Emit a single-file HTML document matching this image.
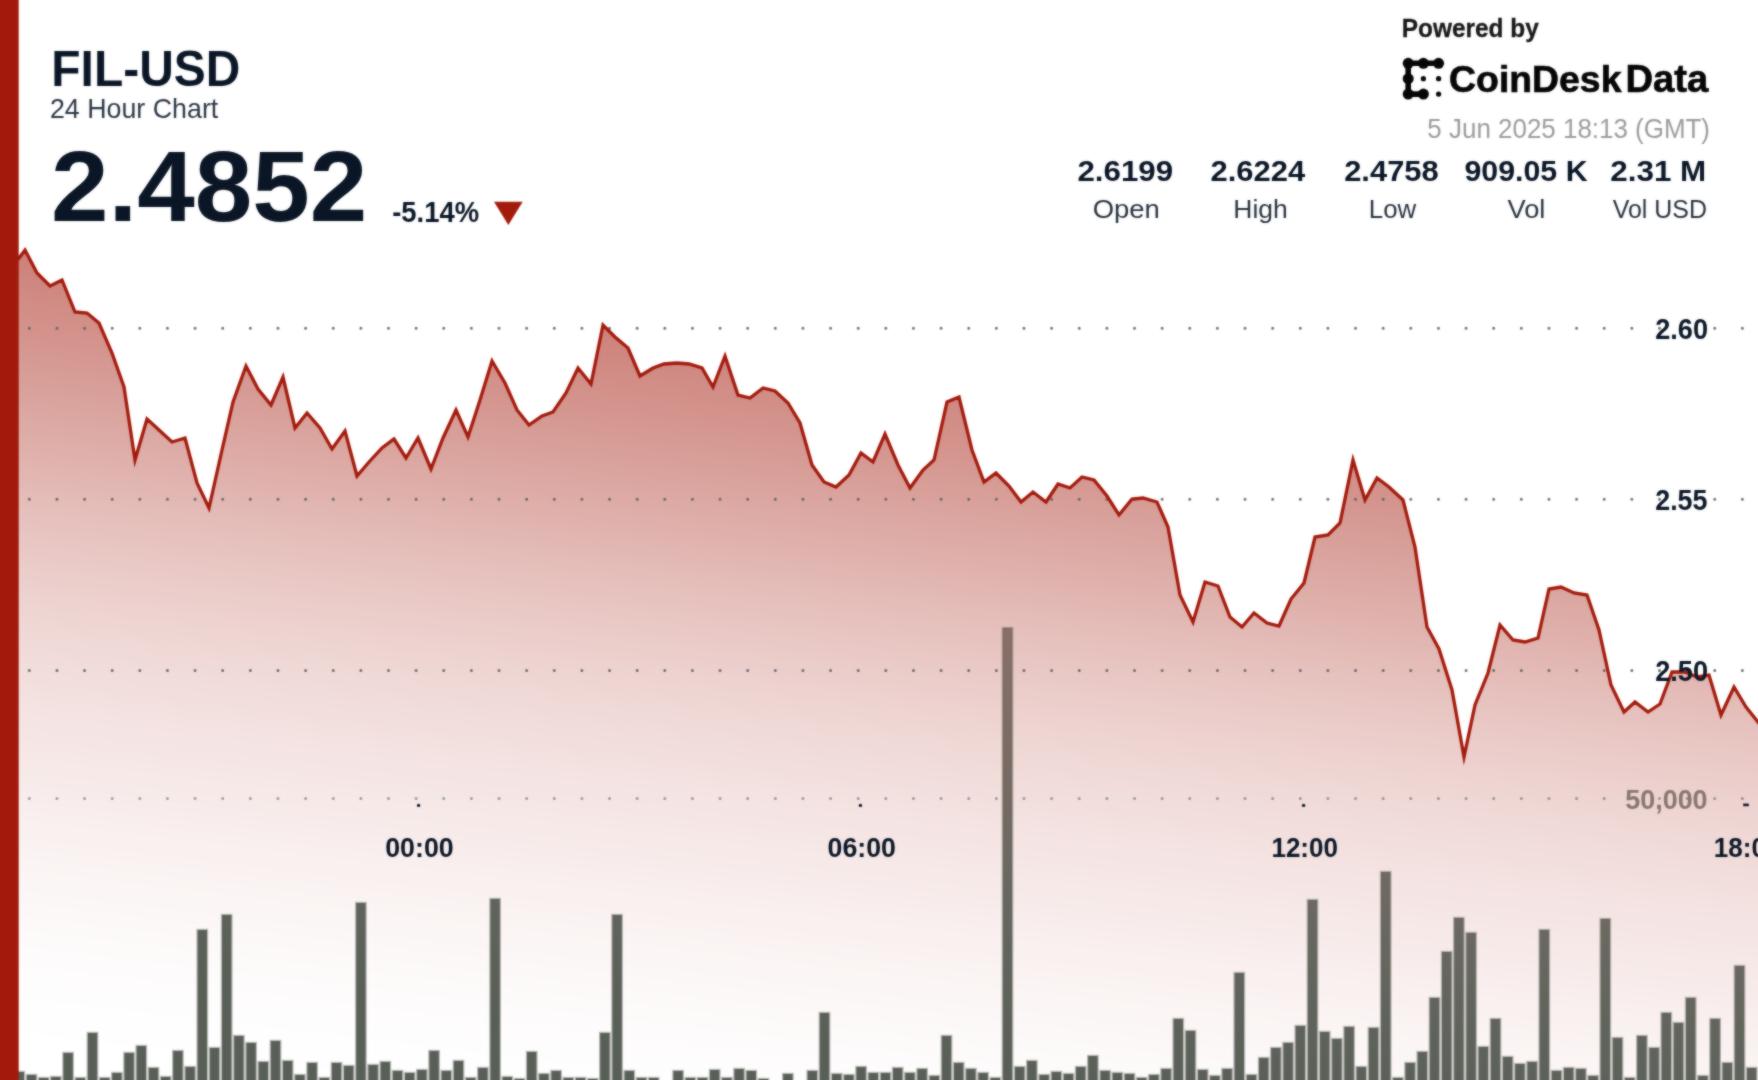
<!DOCTYPE html>
<html><head><meta charset="utf-8"><title>FIL-USD 24 Hour Chart</title>
<style>
html,body{margin:0;padding:0;background:#fff;}
body{width:1758px;height:1080px;overflow:hidden;position:relative;font-family:"Liberation Sans",sans-serif;}
svg{position:absolute;left:0;top:0;display:block;}
text{font-family:"Liberation Sans",sans-serif;}
</style></head><body>
<svg width="1758" height="1080" viewBox="0 0 1758 1080">
<defs>
<linearGradient id="ag" x1="0" y1="250" x2="-94.64" y2="1038.64" gradientUnits="userSpaceOnUse">
<stop offset="0.0000" stop-color="#a31a0c" stop-opacity="0.55"/>
<stop offset="0.0625" stop-color="#a31a0c" stop-opacity="0.5"/>
<stop offset="0.1250" stop-color="#a31a0c" stop-opacity="0.45"/>
<stop offset="0.1875" stop-color="#a31a0c" stop-opacity="0.395"/>
<stop offset="0.2500" stop-color="#a31a0c" stop-opacity="0.34"/>
<stop offset="0.3125" stop-color="#a31a0c" stop-opacity="0.285"/>
<stop offset="0.3750" stop-color="#a31a0c" stop-opacity="0.235"/>
<stop offset="0.4375" stop-color="#a31a0c" stop-opacity="0.19"/>
<stop offset="0.5000" stop-color="#a31a0c" stop-opacity="0.155"/>
<stop offset="0.5625" stop-color="#a31a0c" stop-opacity="0.125"/>
<stop offset="0.6250" stop-color="#a31a0c" stop-opacity="0.1"/>
<stop offset="0.6875" stop-color="#a31a0c" stop-opacity="0.075"/>
<stop offset="0.7500" stop-color="#a31a0c" stop-opacity="0.052"/>
<stop offset="0.8125" stop-color="#a31a0c" stop-opacity="0.032"/>
<stop offset="0.8750" stop-color="#a31a0c" stop-opacity="0.016"/>
<stop offset="0.9375" stop-color="#a31a0c" stop-opacity="0.005"/>
<stop offset="1.0000" stop-color="#a31a0c" stop-opacity="0.0"/>
</linearGradient>
<linearGradient id="bgr" x1="0" y1="507" x2="-53.47" y2="952.58" gradientUnits="userSpaceOnUse">
<stop offset="0.0000" stop-color="rgb(140, 111, 102)"/>
<stop offset="0.3805" stop-color="rgb(117, 106, 98)"/>
<stop offset="0.6018" stop-color="rgb(103, 103, 95)"/>
<stop offset="0.8230" stop-color="rgb(93, 98, 90)"/>
<stop offset="1.0000" stop-color="rgb(88, 95, 87)"/>
</linearGradient>
<filter id="soft" filterUnits="userSpaceOnUse" x="-30" y="-30" width="1818" height="1140" color-interpolation-filters="sRGB"><feGaussianBlur in="SourceGraphic" stdDeviation="1.0" result="b"/><feComposite operator="arithmetic" in="SourceGraphic" in2="b" k1="0" k2="0.44999999999999996" k3="0.55" k4="0"/></filter>
</defs>
<g filter="url(#soft)">
<rect x="-30" y="-30" width="1818" height="1140" fill="#ffffff"/>
<g transform="translate(0,0)">
<path d="M18,259.5 L25,250 L37,273 L50,286 L62,280 L75,312 L87,313 L99,323 L112,353 L124,387 L135,460 L147,419 L159,430 L172,442 L185,438 L197,483 L209,508 L222,450 L233,402 L246,366 L258,389 L271,405 L283,377 L295,428 L307,413 L320,428 L332,449 L345,431 L357,476 L369,462 L382,448 L394,439 L406,458 L418,438 L431,469 L443,438 L456,410 L468,437 L480,400 L492,361 L505,383 L517,410 L529,425 L542,416 L553,412 L566,393 L578,368 L591,384 L603,325 L615,337 L628,348 L640,376 L653,368 L664,364 L677,363 L689,364 L702,368 L713,387 L725,356 L738,395 L750,398 L763,388 L775,391 L788,403 L800,423 L812,465 L824,482 L836,487 L849,475 L861,453 L873,462 L885,434 L898,465 L910,488 L923,470 L934,460 L947,402 L959,397 L972,450 L984,482 L996,473 L1009,486 L1021,502 L1033,492 L1046,502 L1058,484 L1070,488 L1082,477 L1094,480 L1107,496 L1119,515 L1132,499 L1143,498 L1157,502 L1168,527 L1180,595 L1193,622 L1205,582 L1218,586 L1230,617 L1242,627 L1254,613 L1267,623 L1279,626 L1291,599 L1304,583 L1315,537 L1328,535 L1340,523 L1353,460 L1365,500 L1377,478 L1389,487 L1403,500 L1415,547 L1427,627 L1439,649 L1452,690 L1464,757 L1475,705 L1488,673 L1500,625 L1513,640 L1525,642 L1538,638 L1549,589 L1561,587 L1574,593 L1587,595 L1599,630 L1611,685 L1624,712 L1635,702 L1648,712 L1660,704 L1672,672 L1685,672 L1697,677 L1709,675 L1721,715 L1734,687 L1746,707 L1758,722 L1772,739 L1790,739 L1790,1110 L18,1110 Z" fill="url(#ag)"/>
<g fill="url(#bgr)" stroke="#5d625b" stroke-width="2.4" stroke-opacity="0.42">
<rect x="14.6" y="1072" width="9.4" height="40"/>
<rect x="26.8" y="1075" width="9.4" height="37"/>
<rect x="39.0" y="1078" width="9.4" height="34"/>
<rect x="51.2" y="1077" width="9.4" height="35"/>
<rect x="63.4" y="1053" width="9.4" height="59"/>
<rect x="75.6" y="1078" width="9.4" height="34"/>
<rect x="87.8" y="1033" width="9.4" height="79"/>
<rect x="100.0" y="1078" width="9.4" height="34"/>
<rect x="112.2" y="1073" width="9.4" height="39"/>
<rect x="124.4" y="1053" width="9.4" height="59"/>
<rect x="136.6" y="1046" width="9.4" height="66"/>
<rect x="148.8" y="1068" width="9.4" height="44"/>
<rect x="161.0" y="1077" width="9.4" height="35"/>
<rect x="173.2" y="1051" width="9.4" height="61"/>
<rect x="185.4" y="1067" width="9.4" height="45"/>
<rect x="197.6" y="930" width="9.4" height="182"/>
<rect x="209.8" y="1048" width="9.4" height="64"/>
<rect x="222.0" y="915" width="9.4" height="197"/>
<rect x="234.2" y="1036" width="9.4" height="76"/>
<rect x="246.4" y="1043" width="9.4" height="69"/>
<rect x="258.6" y="1062" width="9.4" height="50"/>
<rect x="270.8" y="1041" width="9.4" height="71"/>
<rect x="283.0" y="1061" width="9.4" height="51"/>
<rect x="295.2" y="1075" width="9.4" height="37"/>
<rect x="307.4" y="1063" width="9.4" height="49"/>
<rect x="319.6" y="1078" width="9.4" height="34"/>
<rect x="331.8" y="1063" width="9.4" height="49"/>
<rect x="344.0" y="1066" width="9.4" height="46"/>
<rect x="356.2" y="903" width="9.4" height="209"/>
<rect x="368.4" y="1065" width="9.4" height="47"/>
<rect x="380.6" y="1062" width="9.4" height="50"/>
<rect x="392.8" y="1071" width="9.4" height="41"/>
<rect x="405.0" y="1073" width="9.4" height="39"/>
<rect x="417.2" y="1070" width="9.4" height="42"/>
<rect x="429.4" y="1051" width="9.4" height="61"/>
<rect x="441.6" y="1071" width="9.4" height="41"/>
<rect x="453.8" y="1061" width="9.4" height="51"/>
<rect x="466.0" y="1078" width="9.4" height="34"/>
<rect x="478.2" y="1068" width="9.4" height="44"/>
<rect x="490.4" y="899" width="9.4" height="213"/>
<rect x="502.6" y="1077" width="9.4" height="35"/>
<rect x="514.8" y="1079" width="9.4" height="33"/>
<rect x="527.0" y="1052" width="9.4" height="60"/>
<rect x="539.2" y="1074" width="9.4" height="38"/>
<rect x="551.4" y="1071" width="9.4" height="41"/>
<rect x="563.6" y="1078" width="9.4" height="34"/>
<rect x="575.8" y="1078" width="9.4" height="34"/>
<rect x="588.0" y="1079" width="9.4" height="33"/>
<rect x="600.2" y="1033" width="9.4" height="79"/>
<rect x="612.4" y="915" width="9.4" height="197"/>
<rect x="624.6" y="1071" width="9.4" height="41"/>
<rect x="636.8" y="1078" width="9.4" height="34"/>
<rect x="649.0" y="1078" width="9.4" height="34"/>
<rect x="673.4" y="1071" width="9.4" height="41"/>
<rect x="685.6" y="1078" width="9.4" height="34"/>
<rect x="697.8" y="1078" width="9.4" height="34"/>
<rect x="710.0" y="1070" width="9.4" height="42"/>
<rect x="722.2" y="1078" width="9.4" height="34"/>
<rect x="734.4" y="1069" width="9.4" height="43"/>
<rect x="746.6" y="1071" width="9.4" height="41"/>
<rect x="758.8" y="1079" width="9.4" height="33"/>
<rect x="783.2" y="1074" width="9.4" height="38"/>
<rect x="807.6" y="1071" width="9.4" height="41"/>
<rect x="819.8" y="1013" width="9.4" height="99"/>
<rect x="832.0" y="1074" width="9.4" height="38"/>
<rect x="844.2" y="1075" width="9.4" height="37"/>
<rect x="856.4" y="1067" width="9.4" height="45"/>
<rect x="868.6" y="1073" width="9.4" height="39"/>
<rect x="880.8" y="1073" width="9.4" height="39"/>
<rect x="893.0" y="1068" width="9.4" height="44"/>
<rect x="905.2" y="1073" width="9.4" height="39"/>
<rect x="917.4" y="1069" width="9.4" height="43"/>
<rect x="929.6" y="1076" width="9.4" height="36"/>
<rect x="941.8" y="1036" width="9.4" height="76"/>
<rect x="954.0" y="1063" width="9.4" height="49"/>
<rect x="966.2" y="1069" width="9.4" height="43"/>
<rect x="978.4" y="1073" width="9.4" height="39"/>
<rect x="990.6" y="1078" width="9.4" height="34"/>
<rect x="1002.8" y="628" width="9.4" height="484"/>
<rect x="1015.0" y="1067" width="9.4" height="45"/>
<rect x="1027.2" y="1061" width="9.4" height="51"/>
<rect x="1039.4" y="1075" width="9.4" height="37"/>
<rect x="1051.6" y="1072" width="9.4" height="40"/>
<rect x="1063.8" y="1074" width="9.4" height="38"/>
<rect x="1076.0" y="1067" width="9.4" height="45"/>
<rect x="1088.2" y="1056" width="9.4" height="56"/>
<rect x="1100.4" y="1071" width="9.4" height="41"/>
<rect x="1112.6" y="1073" width="9.4" height="39"/>
<rect x="1124.8" y="1074" width="9.4" height="38"/>
<rect x="1137.0" y="1078" width="9.4" height="34"/>
<rect x="1149.2" y="1075" width="9.4" height="37"/>
<rect x="1161.4" y="1069" width="9.4" height="43"/>
<rect x="1173.6" y="1019" width="9.4" height="93"/>
<rect x="1185.8" y="1031" width="9.4" height="81"/>
<rect x="1198.0" y="1070" width="9.4" height="42"/>
<rect x="1210.2" y="1076" width="9.4" height="36"/>
<rect x="1222.4" y="1069" width="9.4" height="43"/>
<rect x="1234.6" y="973" width="9.4" height="139"/>
<rect x="1246.8" y="1075" width="9.4" height="37"/>
<rect x="1259.0" y="1058" width="9.4" height="54"/>
<rect x="1271.2" y="1048" width="9.4" height="64"/>
<rect x="1283.4" y="1043" width="9.4" height="69"/>
<rect x="1295.6" y="1026" width="9.4" height="86"/>
<rect x="1307.8" y="900" width="9.4" height="212"/>
<rect x="1320.0" y="1032" width="9.4" height="80"/>
<rect x="1332.2" y="1039" width="9.4" height="73"/>
<rect x="1344.4" y="1027" width="9.4" height="85"/>
<rect x="1356.6" y="1067" width="9.4" height="45"/>
<rect x="1368.8" y="1028" width="9.4" height="84"/>
<rect x="1381.0" y="872" width="9.4" height="240"/>
<rect x="1393.2" y="1078" width="9.4" height="34"/>
<rect x="1405.4" y="1063" width="9.4" height="49"/>
<rect x="1417.6" y="1052" width="9.4" height="60"/>
<rect x="1429.8" y="998" width="9.4" height="114"/>
<rect x="1442.0" y="952" width="9.4" height="160"/>
<rect x="1454.2" y="918" width="9.4" height="194"/>
<rect x="1466.4" y="933" width="9.4" height="179"/>
<rect x="1478.6" y="1047" width="9.4" height="65"/>
<rect x="1490.8" y="1019" width="9.4" height="93"/>
<rect x="1503.0" y="1057" width="9.4" height="55"/>
<rect x="1515.2" y="1064" width="9.4" height="48"/>
<rect x="1527.4" y="1062" width="9.4" height="50"/>
<rect x="1539.6" y="930" width="9.4" height="182"/>
<rect x="1551.8" y="1071" width="9.4" height="41"/>
<rect x="1564.0" y="1068" width="9.4" height="44"/>
<rect x="1576.2" y="1069" width="9.4" height="43"/>
<rect x="1588.4" y="1076" width="9.4" height="36"/>
<rect x="1600.6" y="919" width="9.4" height="193"/>
<rect x="1612.8" y="1038" width="9.4" height="74"/>
<rect x="1625.0" y="1078" width="9.4" height="34"/>
<rect x="1637.2" y="1036" width="9.4" height="76"/>
<rect x="1649.4" y="1048" width="9.4" height="64"/>
<rect x="1661.6" y="1013" width="9.4" height="99"/>
<rect x="1673.8" y="1023" width="9.4" height="89"/>
<rect x="1686.0" y="998" width="9.4" height="114"/>
<rect x="1698.2" y="1076" width="9.4" height="36"/>
<rect x="1710.4" y="1019" width="9.4" height="93"/>
<rect x="1722.6" y="1063" width="9.4" height="49"/>
<rect x="1734.8" y="966" width="9.4" height="146"/>
<rect x="1747.0" y="1068" width="9.4" height="44"/>
</g>
<g stroke="#565a5e" stroke-opacity="0.85" stroke-width="3.0" stroke-linecap="round" stroke-dasharray="0.01 27.62" fill="none">
<line x1="29.3" y1="328.3" x2="1758" y2="328.3"/>
<line x1="29.3" y1="499.3" x2="1758" y2="499.3"/>
<line x1="29.3" y1="670.5" x2="1758" y2="670.5"/>
<line x1="29.3" y1="798.4" x2="1758" y2="798.4" stroke-opacity="0.55"/>
</g>
<path d="M18,259.5 L25,250 L37,273 L50,286 L62,280 L75,312 L87,313 L99,323 L112,353 L124,387 L135,460 L147,419 L159,430 L172,442 L185,438 L197,483 L209,508 L222,450 L233,402 L246,366 L258,389 L271,405 L283,377 L295,428 L307,413 L320,428 L332,449 L345,431 L357,476 L369,462 L382,448 L394,439 L406,458 L418,438 L431,469 L443,438 L456,410 L468,437 L480,400 L492,361 L505,383 L517,410 L529,425 L542,416 L553,412 L566,393 L578,368 L591,384 L603,325 L615,337 L628,348 L640,376 L653,368 L664,364 L677,363 L689,364 L702,368 L713,387 L725,356 L738,395 L750,398 L763,388 L775,391 L788,403 L800,423 L812,465 L824,482 L836,487 L849,475 L861,453 L873,462 L885,434 L898,465 L910,488 L923,470 L934,460 L947,402 L959,397 L972,450 L984,482 L996,473 L1009,486 L1021,502 L1033,492 L1046,502 L1058,484 L1070,488 L1082,477 L1094,480 L1107,496 L1119,515 L1132,499 L1143,498 L1157,502 L1168,527 L1180,595 L1193,622 L1205,582 L1218,586 L1230,617 L1242,627 L1254,613 L1267,623 L1279,626 L1291,599 L1304,583 L1315,537 L1328,535 L1340,523 L1353,460 L1365,500 L1377,478 L1389,487 L1403,500 L1415,547 L1427,627 L1439,649 L1452,690 L1464,757 L1475,705 L1488,673 L1500,625 L1513,640 L1525,642 L1538,638 L1549,589 L1561,587 L1574,593 L1587,595 L1599,630 L1611,685 L1624,712 L1635,702 L1648,712 L1660,704 L1672,672 L1685,672 L1697,677 L1709,675 L1721,715 L1734,687 L1746,707 L1758,722 L1772,739" fill="none" stroke="#a31a0c" stroke-width="3.3" stroke-linejoin="miter" stroke-miterlimit="6" stroke-linecap="butt"/>
<rect x="-30" y="-30" width="48.7" height="1140" fill="#a31a0c"/>
<g fill="#0d1a2b">
<circle cx="418.6" cy="805.4" r="1.7"/>
<circle cx="860.4" cy="805.4" r="1.7"/>
<circle cx="1303.6" cy="805.4" r="1.7"/>
<rect x="1743.2" y="803.6" width="5.6" height="2.6"/>
</g>
<polygon points="494,201.7 522.7,201.7 508.35,225" fill="#a31a0c"/>
<path d="M1438.6,63.3 L1408.2,63.3 L1408.2,94.1 L1423.4,94.1" fill="none" stroke="#050505" stroke-width="5.6" stroke-linecap="round" stroke-linejoin="round"/>
<circle cx="1408.2" cy="63.3" r="5.5" fill="#050505"/>
<circle cx="1423.4" cy="63.3" r="5.5" fill="#050505"/>
<circle cx="1438.6" cy="63.3" r="5.5" fill="#050505"/>
<circle cx="1408.2" cy="78.7" r="5.5" fill="#050505"/>
<circle cx="1408.2" cy="94.1" r="5.5" fill="#050505"/>
<circle cx="1423.4" cy="94.1" r="5.5" fill="#050505"/>
<circle cx="1423.4" cy="78.7" r="2.6" fill="#050505"/>
<circle cx="1438.6" cy="78.7" r="2.6" fill="#050505"/>
<circle cx="1438.6" cy="94.1" r="2.6" fill="#050505"/>
<text id="sym" transform="translate(51.34,85.80) scale(0.9587,1)" font-size="50.00" font-weight="bold" fill="#0a1626">FIL-USD</text>
<text id="sub" transform="translate(49.96,118.00) scale(0.9590,1)" font-size="27.95" font-weight="normal" fill="#2a3545">24 Hour Chart</text>
<text id="price" transform="translate(50.90,221.40) scale(1.0419,1)" font-size="99.29" font-weight="bold" fill="#0a1626">2.4852</text>
<text id="chg" transform="translate(392.20,221.70) scale(0.9460,1)" font-size="28.99" font-weight="bold" fill="#0a1626">-5.14%</text>
<text id="pow" transform="translate(1401.79,37.10) scale(0.9483,1)" font-size="25.75" font-weight="bold" fill="#161616" stroke="#161616" stroke-width="0.3">Powered by</text>
<text id="cd1" transform="translate(1449.11,92.00) scale(0.9885,1)" font-size="37.81" font-weight="bold" fill="#050505" stroke="#050505" stroke-width="0.7">CoinDesk</text>
<text id="cd2" transform="translate(1625.43,92.00) scale(0.9796,1)" font-size="38.99" font-weight="bold" fill="#050505" stroke="#050505" stroke-width="0.7">Data</text>
<text id="date" transform="translate(1427.36,137.80) scale(0.9381,1)" font-size="27.67" font-weight="normal" fill="#9b9b9b">5 Jun 2025 18:13 (GMT)</text>
<text id="v1" transform="translate(1077.46,181.00) scale(1.0535,1)" font-size="29.71" font-weight="bold" fill="#0a1626">2.6199</text>
<text id="v2" transform="translate(1210.47,181.00) scale(1.0430,1)" font-size="29.71" font-weight="bold" fill="#0a1626">2.6224</text>
<text id="v3" transform="translate(1344.17,181.00) scale(1.0410,1)" font-size="29.71" font-weight="bold" fill="#0a1626">2.4758</text>
<text id="v4" transform="translate(1464.39,181.00) scale(1.0222,1)" font-size="29.71" font-weight="bold" fill="#0a1626">909.05 K</text>
<text id="v5" transform="translate(1610.26,181.00) scale(1.0574,1)" font-size="29.71" font-weight="bold" fill="#0a1626">2.31 M</text>
<text id="l1" transform="translate(1092.63,218.00) scale(1.0337,1)" font-size="26.57" font-weight="normal" fill="#27313f">Open</text>
<text id="l2" transform="translate(1233.28,218.00) scale(0.9969,1)" font-size="26.58" font-weight="normal" fill="#27313f">High</text>
<text id="l3" transform="translate(1368.83,218.00) scale(0.9695,1)" font-size="26.67" font-weight="normal" fill="#27313f">Low</text>
<text id="l4" transform="translate(1507.43,218.00) scale(1.0390,1)" font-size="26.30" font-weight="normal" fill="#27313f">Vol</text>
<text id="l5" transform="translate(1612.65,218.00) scale(0.9485,1)" font-size="26.30" font-weight="normal" fill="#27313f">Vol USD</text>
<text id="x1" transform="translate(385.13,856.80) scale(0.9577,1)" font-size="28.00" font-weight="bold" fill="#0a1626">00:00</text>
<text id="x2" transform="translate(827.53,856.80) scale(0.9562,1)" font-size="28.00" font-weight="bold" fill="#0a1626">06:00</text>
<text id="x3" transform="translate(1271.44,856.80) scale(0.9292,1)" font-size="28.00" font-weight="bold" fill="#0a1626">12:00</text>
<text id="x4" transform="translate(1713.83,856.80) scale(0.9321,1)" font-size="28.00" font-weight="bold" fill="#0a1626">18:00</text>
<text id="y1" transform="translate(1655.19,338.60) scale(0.9231,1)" font-size="29.43" font-weight="bold" fill="#0a1626">2.60</text>
<text id="y2" transform="translate(1655.19,509.60) scale(0.9133,1)" font-size="29.43" font-weight="bold" fill="#0a1626">2.55</text>
<text id="y3" transform="translate(1655.19,680.80) scale(0.9231,1)" font-size="29.43" font-weight="bold" fill="#0a1626">2.50</text>
<text id="y4" transform="translate(1625.19,808.60) scale(0.9727,1)" font-size="27.71" font-weight="bold" fill="#88766f">50,000</text>
</g>
</g>
</svg>
</body></html>
